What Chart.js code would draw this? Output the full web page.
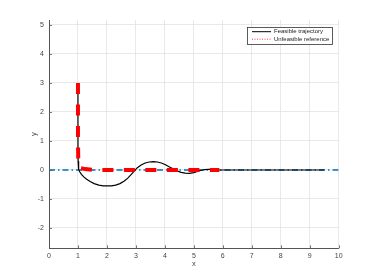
<!DOCTYPE html>
<html><head><meta charset="utf-8">
<script src="https://cdn.jsdelivr.net/npm/chart.js@4.4.1/dist/chart.umd.min.js"></script>
<style>html,body{margin:0;padding:0;background:#fff}#wrap{width:374px;height:280px}</style>
</head><body><div id="wrap"><canvas id="c" width="374" height="280"></canvas></div>
<script>
const xTicks = [0,1,2,3,4,5,6,7,8,9,10];
const yTicks = [-2,-1,0,1,2,3,4,5];
const trajX = [1.0,1.0,1.0,1.005,1.015,1.03,1.06,1.12,1.2,1.3,1.42,1.56,1.72,1.88,2.0,2.15,2.3,2.45,2.6,2.72,2.84,2.95,3.05,3.18,3.32,3.46,3.6,3.74,3.88,4.02,4.16,4.3,4.42,4.56,4.7,4.85,5.0,5.12,5.25,5.38,5.5,5.65,5.85,6.1,9.5];
const trajY = [3.0,1.5,0.6,0.3,0.12,0.02,-0.06,-0.15,-0.24,-0.32,-0.40,-0.47,-0.52,-0.545,-0.55,-0.545,-0.52,-0.47,-0.38,-0.28,-0.15,-0.03,0.08,0.17,0.24,0.275,0.285,0.275,0.24,0.18,0.1,0.03,-0.03,-0.08,-0.11,-0.115,-0.09,-0.05,-0.01,0.015,0.025,0.02,0.005,0,0];
const refX = [1,1,1.01,1.04,1.1,1.25,1.5,2,5.88];
const refY = [3,1,0.4,0.15,0.06,0.03,0.01,0,0];
const zeroX = [0,10];
const zeroY = [0,0];
const pts = (xs, ys) => xs.map((x,i)=>({x, y: ys[i]}));

const FONT = "'Liberation Sans', Arial, sans-serif";
const tickMarks = {
  id:'tickMarks',
  afterDraw(chart){
    const {ctx, chartArea:a, scales} = chart;
    ctx.save();
    ctx.strokeStyle = '#555'; ctx.lineWidth = 0.8;
    ctx.beginPath();
    xTicks.forEach(v=>{const p = Math.round(scales.x.getPixelForValue(v))+0.5; ctx.moveTo(p, a.bottom); ctx.lineTo(p, a.bottom-3);});
    yTicks.forEach(v=>{const p = Math.round(scales.y.getPixelForValue(v))+0.5; ctx.moveTo(a.left, p); ctx.lineTo(a.left+3, p);});
    ctx.stroke();
    // legend
    const bx=247, by=27, bw=85, bh=17;
    ctx.fillStyle='#fff'; ctx.fillRect(bx,by,bw,bh);
    ctx.strokeStyle='#333'; ctx.lineWidth=0.8; ctx.strokeRect(bx+0.5,by+0.5,bw,bh);
    const ds = chart.data.datasets;
    const rows = [[ds[0], 31.7, []], [ds[1], 39.2, [1,1.5]]];
    rows.forEach(([d, y, dash])=>{
      ctx.beginPath(); ctx.setLineDash(dash);
      ctx.strokeStyle = d.borderColor; ctx.lineWidth = d === ds[0] ? 1 : 0.8;
      ctx.moveTo(252, y); ctx.lineTo(271, y); ctx.stroke();
      ctx.setLineDash([]);
      ctx.fillStyle='#222'; ctx.font = '6px ' + FONT; ctx.textBaseline='middle'; ctx.textAlign='left';
      ctx.fillText(d.label, 274, y);
    });
    ctx.restore();
  }
};

new Chart(document.getElementById('c'), {
  type: 'scatter',
  data: { datasets: [
    { label:'Feasible trajectory', data: pts(trajX, trajY), showLine:true, borderColor:'#000', borderWidth:1.2, pointRadius:0, order:1 },
    { label:'Unfeasible reference', data: pts(refX, refY), showLine:true, borderColor:'#ff0000', borderWidth:4, borderDash:[11,10.5], pointRadius:0, order:0 },
    { label:'zero', data: pts(zeroX, zeroY), showLine:true, borderColor:'#0072BD', borderWidth:1.5, borderDash:[6,3,1.5,3], pointRadius:0, order:2 }
  ]},
  options: {
    responsive:false, animation:false, devicePixelRatio:1,
    layout:{ padding:{ left:0, right:35.3, top:20, bottom:0 } },
    plugins:{ legend:{display:false}, tooltip:{enabled:false} },
    scales:{
      x:{ type:'linear', min:0, max:10,
        afterBuildTicks(s){ s.ticks = xTicks.map(v=>({value:v})); },
        afterFit(s){ s.height = 31.7; },
        grid:{ color:'#e3e3e3', drawTicks:false, lineWidth:0.8 },
        border:{ color:'#555', width:1 },
        ticks:{ padding:4, font:{size:7, family:FONT}, color:'#444', maxRotation:0 },
        title:{ display:true, text:'x', font:{size:7.5, family:FONT}, color:'#444', padding:{top:12,bottom:12} }
      },
      y:{ type:'linear', min:-2.7, max:5.17,
        afterBuildTicks(s){ s.ticks = yTicks.map(v=>({value:v})); },
        afterFit(s){ s.width = 49; },
        grid:{ color:'#e3e3e3', drawTicks:false, lineWidth:0.8 },
        border:{ color:'#555', width:1 },
        ticks:{ padding:5, font:{size:7, family:FONT}, color:'#444' },
        title:{ display:true, text:'y', font:{size:7.5, family:FONT}, color:'#444', padding:{top:29,bottom:29} }
      }
    }
  },
  plugins:[tickMarks]
});
</script></body></html>
